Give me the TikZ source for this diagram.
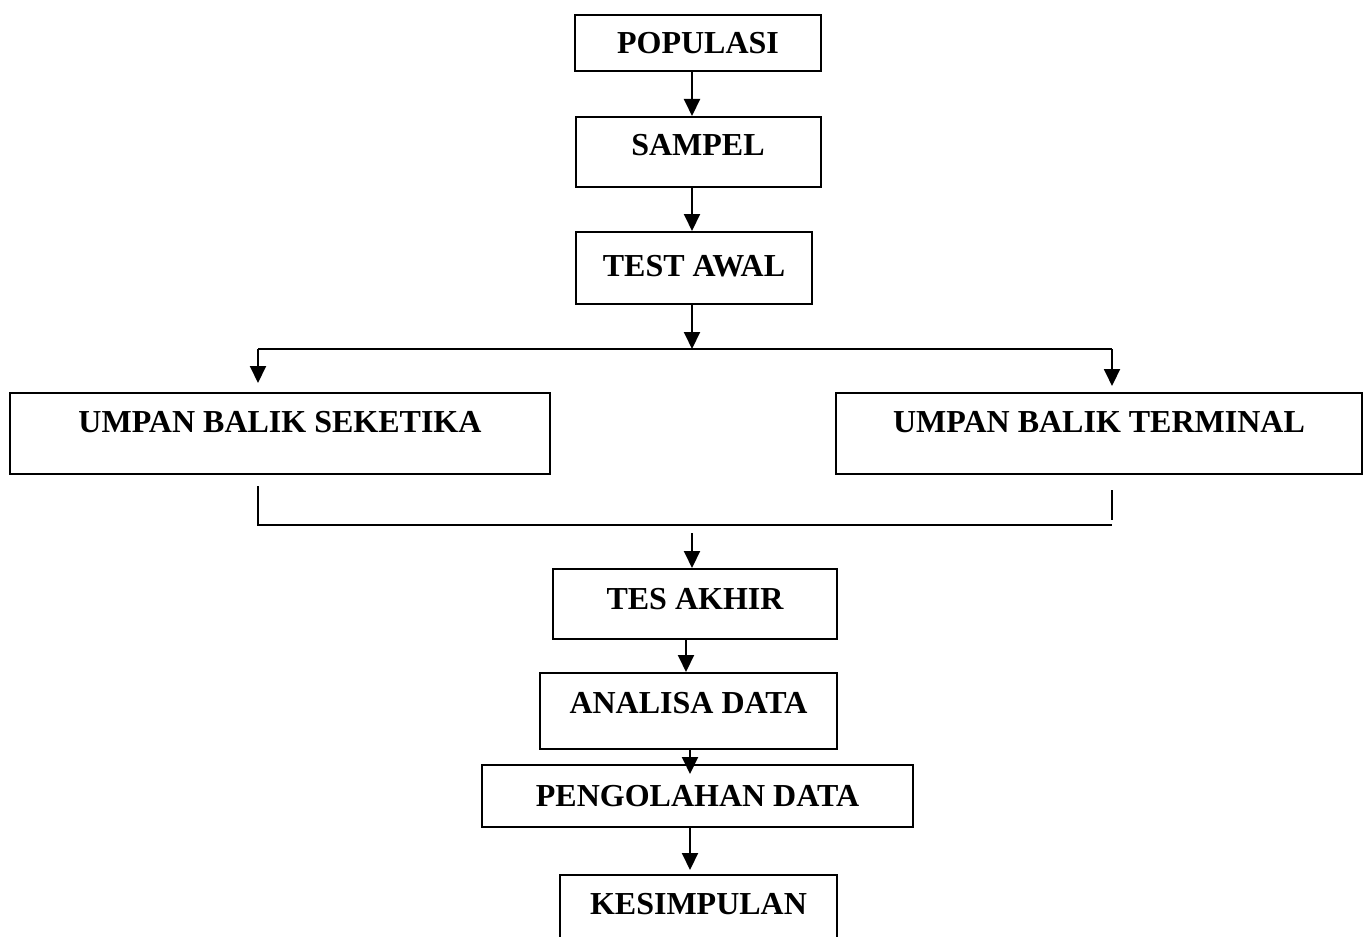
\documentclass[tikz,border=0pt]{standalone}
\usepackage{fontspec}
\setmainfont{Liberation Serif}
\usepackage{tikz}
\usetikzlibrary{arrows.meta}

\begin{document}
\begin{tikzpicture}[x=0.5pt, y=-0.5pt,
  box/.style={draw, line width=1pt, inner sep=0pt, text height=11pt, font=\fontsize{16pt}{19pt}\selectfont\bfseries},
  line/.style={line width=1pt},
  arr/.style={line width=1pt, -{Triangle[length=8.5pt,width=8pt]}}]
\useasboundingbox (0,0) rectangle (1368,936);
\clip (0,0) rectangle (1368,936);
\node[box, minimum width=123pt, minimum height=28pt, text depth=0pt] (pop) at (698,43) {POPULASI};
\node[box, minimum width=122.5pt, minimum height=35pt, text depth=7.6pt] (sam) at (698,152) {SAMPEL};
\node[box, minimum width=118pt, minimum height=36pt, text depth=2.6pt] (test) at (694,268) {TEST AWAL};
\node[box, minimum width=270pt, minimum height=40.5pt, text depth=11.6pt] (sek) at (280,433.5) {UMPAN BALIK SEKETIKA};
\node[box, minimum width=263pt, minimum height=40.5pt, text depth=11.6pt] (ter) at (1099,433.5) {UMPAN BALIK TERMINAL};
\node[box, minimum width=142pt, minimum height=35pt, text depth=5.1pt] (tes) at (695,604) {TES AKHIR};
\node[box, minimum width=148.5pt, minimum height=38pt, text depth=8.6pt] (ana) at (688.5,711) {ANALISA DATA};
\node[box, minimum width=215.5pt, minimum height=31pt, text depth=0.6pt] (peng) at (697.5,796) {PENGOLAHAN DATA};
\node[box, minimum width=138.5pt, minimum height=35pt, text depth=6.6pt] (kes) at (698.5,910) {KESIMPULAN};
\draw[arr] ([xshift=-3pt]pop.south) -- ([xshift=-3pt]pop.south |- sam.north);
\draw[arr] ([xshift=-3pt]sam.south) -- ([xshift=-3pt]sam.south |- test.north);
\coordinate (split) at (692,349);
\coordinate (sl) at (258,349);
\coordinate (sr) at (1112,349);
\draw[arr] (split |- test.south) -- (split);
\draw[line] (sl) -- (sr);
\draw[arr, shorten >=4.5pt] (sl) -- (sl |- sek.north);
\draw[arr, shorten >=3pt] (sr) -- (sr |- ter.north);
\coordinate (jl) at (258,486);
\coordinate (jr) at (1112,490);
\coordinate (jrb) at (1112,525);
\coordinate (jre) at (1112,520);
\draw[line] (jl) |- (jrb);
\draw[line] (jr) -- (jre);
\coordinate (merge) at (692,533);
\draw[arr] (merge) -- (merge |- tes.north);
\draw[arr] ([xshift=-4.5pt]tes.south) -- ([xshift=-4.5pt]tes.south |- ana.north);
\draw[arr, shorten >=-5pt] ([xshift=0.75pt]ana.south) -- ([xshift=0.75pt]ana.south |- peng.north);
\draw[arr, shorten >=2pt] ([xshift=-3.75pt]peng.south) -- ([xshift=-3.75pt]peng.south |- kes.north);
\end{tikzpicture}
\end{document}
